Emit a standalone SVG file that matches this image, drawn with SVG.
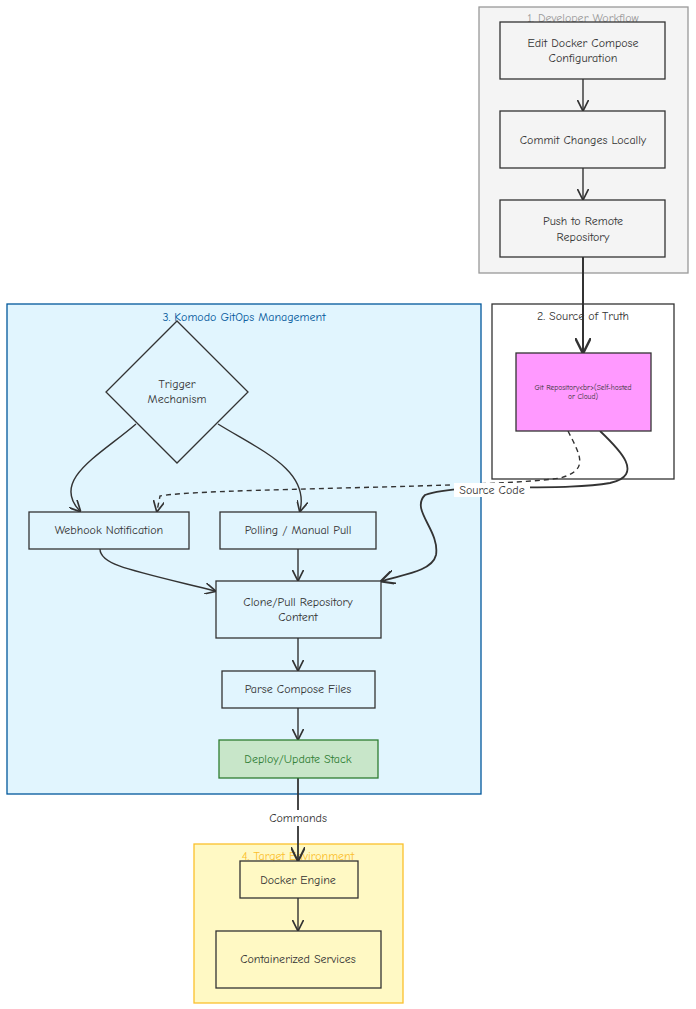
<svg xmlns="http://www.w3.org/2000/svg" width="696" height="1009" viewBox="0 0 696 1009">
<defs>
<marker id="ah" viewBox="0 0 10 10" refX="9" refY="5" markerWidth="8" markerHeight="8" orient="auto-start-reverse"><path d="M0,0 L10,5 L0,10" fill="none" stroke="#333" stroke-width="1.5"/></marker>
<style>
text{font-family:"Comic Neue","Liberation Sans",sans-serif;font-size:12px;fill:#333;text-anchor:middle}
.n{fill:#f4f4f4;stroke:#333;stroke-width:1.3}
.e{fill:none;stroke:#333;stroke-width:1.4;marker-end:url(#ah)}
.t{font-size:12px}
</style>
</defs>
<rect width="696" height="1009" fill="#fff"/>
<g id="cluster1"><rect x="479" y="7" width="209" height="266" fill="#f4f4f4" stroke="#999" stroke-width="1.3"/><text x="583" y="22" fill="#999" style="fill:#999">1. Developer Workflow</text></g>
<g id="cluster2"><rect x="492" y="304" width="182" height="175" fill="#fff" stroke="#333" stroke-width="1.3"/><text x="583" y="320">2. Source of Truth</text></g>
<g id="cluster3"><rect x="7" y="304" width="474" height="490" fill="#e1f5fe" stroke="#01579b" stroke-width="1.3"/><text x="244" y="321" style="fill:#01579b">3. Komodo GitOps Management</text></g>
<g id="cluster4"><rect x="194" y="844" width="209" height="159" fill="#fff9c4" stroke="#fbc02d" stroke-width="1.3"/><text x="298" y="860" style="fill:#fbc02d">4. Target Environment</text></g>

<g id="edges">
<path class="e" d="M583,79 L583,110"/>
<path class="e" d="M583,168 L583,199"/>
<path class="e" d="M583,257 L583,352" style="stroke-width:2"/>
<path class="e" d="M568,431 C580,455 590,470 560,478 C500,488 200,488 160,496 L157,511" stroke-dasharray="5,4"/>
<path class="e" d="M600,431 C620,450 645,475 610,483 C560,492 460,482 425,495 C410,510 440,530 436,555 C432,572 400,575 382,581" style="stroke-width:1.8"/>
<path class="e" d="M136,424 C100,455 50,480 80,511"/>
<path class="e" d="M218,424 C260,450 310,470 300,511"/>
<path class="e" d="M100,549 C100,565 130,570 215,591"/>
<path class="e" d="M298,549 L298,580"/>
<path class="e" d="M298,638 L298,670"/>
<path class="e" d="M298,708 L298,739"/>
<path class="e" d="M298,778 L298,860" style="stroke-width:1.8"/>
<path class="e" d="M298,898 L298,930"/>
<rect x="262" y="810" width="72" height="16" fill="#fff"/>
<text x="298" y="822">Commands</text>
<rect x="454" y="483" width="76" height="14" fill="#fff"/>
<text x="492" y="494">Source Code</text>
</g>

<g id="edit"><rect class="n" x="500" y="22" width="165" height="57"/><text x="583" y="47">Edit Docker Compose</text><text x="583" y="62">Configuration</text></g>
<g id="commit"><rect class="n" x="500" y="111" width="165" height="57"/><text x="583" y="144">Commit Changes Locally</text></g>
<g id="push"><rect class="n" x="500" y="200" width="165" height="57"/><text x="583" y="225">Push to Remote</text><text x="583" y="241">Repository</text></g>
<g id="git"><rect x="516" y="353" width="135" height="78" fill="#ff99ff" stroke="#333" stroke-width="1.3"/><text x="583" y="390" style="font-size:7.5px">Git Repository&lt;br&gt;(Self-hosted</text><text x="583" y="399" style="font-size:7.5px">or Cloud)</text></g>
<g id="trigger"><polygon points="177,321 248,392 177,463 106,392" fill="#e1f5fe" stroke="#333" stroke-width="1.3"/><text x="177" y="388">Trigger</text><text x="177" y="403">Mechanism</text></g>
<g id="webhook"><rect class="n" x="29" y="512" width="160" height="37" style="fill:#e1f5fe"/><text x="109" y="534">Webhook Notification</text></g>
<g id="polling"><rect class="n" x="220" y="512" width="156" height="37" style="fill:#e1f5fe"/><text x="298" y="534">Polling / Manual Pull</text></g>
<g id="clone"><rect class="n" x="216" y="581" width="165" height="57" style="fill:#e1f5fe"/><text x="298" y="606">Clone/Pull Repository</text><text x="298" y="621">Content</text></g>
<g id="parse"><rect class="n" x="222" y="671" width="153" height="37" style="fill:#e1f5fe"/><text x="298" y="693">Parse Compose Files</text></g>
<g id="deploy"><rect x="219" y="740" width="159" height="38" fill="#c8e6c9" stroke="#2e7d32" stroke-width="1.3"/><text x="298" y="763" style="fill:#2e7d32">Deploy/Update Stack</text></g>
<g id="docker"><rect class="n" x="240" y="861" width="118" height="37" style="fill:#fff9c4"/><text x="298" y="884">Docker Engine</text></g>
<g id="services"><rect class="n" x="216" y="931" width="165" height="57" style="fill:#fff9c4"/><text x="298" y="963">Containerized Services</text></g>
</svg>
